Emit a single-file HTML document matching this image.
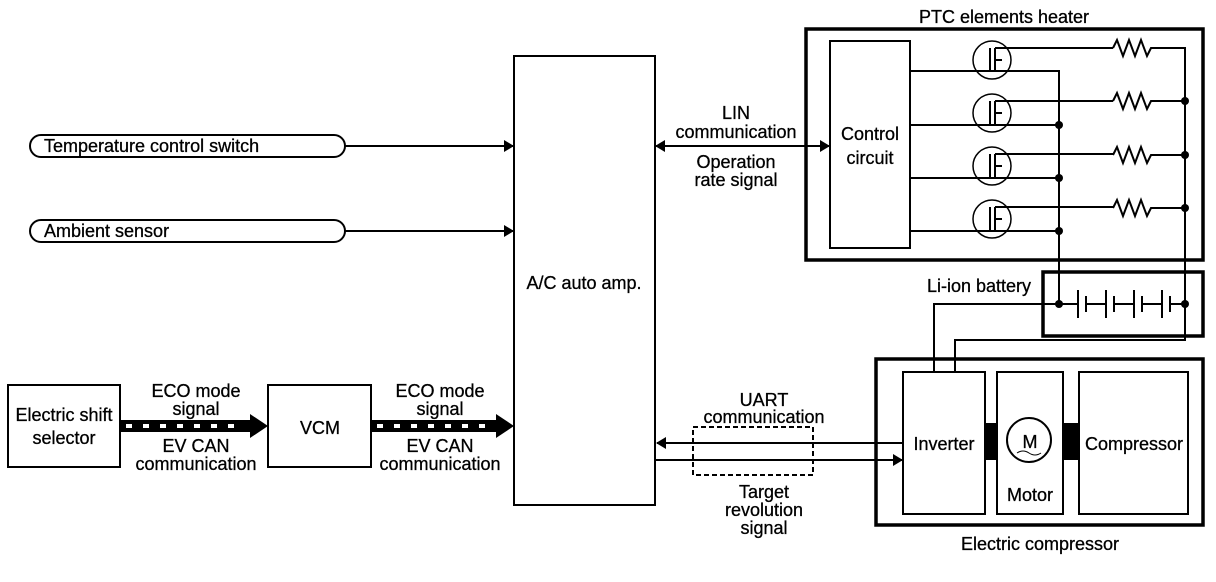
<!DOCTYPE html>
<html><head><style>html,body{margin:0;padding:0;background:#fff}svg{display:block}text{font-family:"Liberation Sans",sans-serif;font-size:18px;fill:#000;stroke:#000;stroke-width:0.3}</style></head>
<body>
<svg width="1216" height="582" viewBox="0 0 1216 582" xmlns="http://www.w3.org/2000/svg">
<defs>
<marker id="ah" markerWidth="10" markerHeight="12" refX="9" refY="6" orient="auto" markerUnits="userSpaceOnUse"><path d="M0,0 L10,6 L0,12 z" fill="#000"/></marker>
<marker id="ahs" markerWidth="10" markerHeight="12" refX="1" refY="6" orient="auto" markerUnits="userSpaceOnUse"><path d="M10,0 L0,6 L10,12 z" fill="#000"/></marker>
</defs>
<g stroke="#000" fill="none" stroke-width="2">
<rect x="514" y="56" width="141" height="449"/>
<rect x="30" y="135" width="315" height="22" rx="11"/>
<rect x="30" y="220" width="315" height="22" rx="11"/>
<line x1="345" y1="146" x2="513" y2="146" marker-end="url(#ah)"/>
<line x1="345" y1="231" x2="513" y2="231" marker-end="url(#ah)"/>
<rect x="8" y="385" width="112" height="82"/>
<rect x="268" y="385" width="103" height="82"/>
<line x1="656" y1="146" x2="829" y2="146" marker-end="url(#ah)" marker-start="url(#ahs)"/>
<rect x="806" y="29" width="397" height="231" stroke-width="3.5"/>
<rect x="830" y="41" width="80" height="207"/>
<g stroke-width="1.5">
<circle cx="992" cy="60" r="19"/><circle cx="992" cy="113" r="19"/><circle cx="992" cy="166" r="19"/><circle cx="992" cy="219" r="19"/>
</g>
<path d="M910,71 H1059 V304"/>
<path d="M910,125 H1059 M910,178 H1059 M910,231 H1059"/>
<g>
<path d="M990,48 V72 M995,48 V72 M995,48 H1113 M995,60 H1002"/>
<path d="M990,101 V125 M995,101 V125 M995,101 H1113 M995,113 H1002"/>
<path d="M990,154 V178 M995,154 V178 M995,154 H1113 M995,166 H1002"/>
<path d="M990,207 V231 M995,207 V231 M995,207 H1113 M995,219 H1002"/>
</g>
<path d="M1113,48 l4,-8 l6,16 l6,-16 l6,16 l6,-16 l6,16 l4,-8 H1185 V340 H955 V372"/>
<path d="M1113,101 l4,-8 l6,16 l6,-16 l6,16 l6,-16 l6,16 l4,-8 H1185"/>
<path d="M1113,155 l4,-8 l6,16 l6,-16 l6,16 l6,-16 l6,16 l4,-8 H1185"/>
<path d="M1113,208 l4,-8 l6,16 l6,-16 l6,16 l6,-16 l6,16 l4,-8 H1185"/>
<rect x="1043" y="272" width="160" height="64" stroke-width="3.5"/>
<path d="M934,372 V304 H1078 M1086,304 H1106 M1114,304 H1134 M1142,304 H1162 M1170,304 H1185"/>
<path d="M1078,290 V318 M1086,296 V312 M1106,290 V318 M1114,296 V312 M1134,290 V318 M1142,296 V312 M1162,290 V318 M1170,296 V312" stroke-width="2"/>
<rect x="876" y="359" width="327" height="166" stroke-width="3.5"/>
<rect x="903" y="372" width="82" height="142"/>
<rect x="997" y="372" width="66" height="142"/>
<rect x="1079" y="372" width="109" height="142"/>
<circle cx="1029" cy="440" r="22"/>
<path d="M1017,453 q6,-4 12,0 t12,0" stroke-width="1"/>
<line x1="903" y1="443" x2="657" y2="443" marker-end="url(#ah)"/>
<line x1="656" y1="460" x2="902" y2="460" marker-end="url(#ah)"/>
<rect x="693" y="427" width="120" height="48" stroke-dasharray="5,3"/>
</g>
<g fill="#000">
<circle cx="1059" cy="125" r="4"/><circle cx="1059" cy="178" r="4"/><circle cx="1059" cy="231" r="4"/><circle cx="1059" cy="304" r="4"/>
<circle cx="1185" cy="101" r="4"/><circle cx="1185" cy="155" r="4"/><circle cx="1185" cy="208" r="4"/><circle cx="1185" cy="304" r="4"/>
<rect x="985" y="423" width="12" height="37"/><rect x="1063" y="423" width="16" height="37"/>
<rect x="120" y="420" width="132" height="12"/><path d="M250,414 L268,426 L250,438z"/>
<rect x="371" y="420" width="127" height="12"/><path d="M496,414 L514,426 L496,438z"/>
</g>
<g fill="#fff">
<rect x="126" y="424" width="6" height="4"/><rect x="143" y="424" width="6" height="4"/><rect x="160" y="424" width="6" height="4"/><rect x="177" y="424" width="6" height="4"/><rect x="194" y="424" width="6" height="4"/><rect x="211" y="424" width="6" height="4"/><rect x="228" y="424" width="6" height="4"/>
<rect x="377" y="424" width="6" height="4"/><rect x="394" y="424" width="6" height="4"/><rect x="411" y="424" width="6" height="4"/><rect x="428" y="424" width="6" height="4"/><rect x="445" y="424" width="6" height="4"/><rect x="462" y="424" width="6" height="4"/><rect x="479" y="424" width="6" height="4"/>
</g>
<text x="44" y="152">Temperature control switch</text>
<text x="44" y="237">Ambient sensor</text>
<text x="584" y="289" text-anchor="middle">A/C auto amp.</text>
<g text-anchor="middle">
<text x="64" y="421">Electric shift</text><text x="64" y="444">selector</text>
<text x="196" y="397">ECO mode</text><text x="196" y="415">signal</text>
<text x="196" y="452">EV CAN</text><text x="196" y="470">communication</text>
<text x="320" y="434">VCM</text>
<text x="440" y="397">ECO mode</text><text x="440" y="415">signal</text>
<text x="440" y="452">EV CAN</text><text x="440" y="470">communication</text>
<text x="736" y="119">LIN</text><text x="736" y="138">communication</text>
<text x="736" y="168">Operation</text><text x="736" y="186">rate signal</text>
<text x="870" y="140">Control</text><text x="870" y="164">circuit</text>
<text x="1004" y="23">PTC elements heater</text>
<text x="979" y="292">Li-ion battery</text>
<text x="764" y="406">UART</text><text x="764" y="423">communication</text>
<text x="764" y="498">Target</text><text x="764" y="516">revolution</text><text x="764" y="534">signal</text>
<text x="944" y="450">Inverter</text>
<text x="1030" y="448" font-size="20">M</text>
<text x="1030" y="501">Motor</text>
<text x="1134" y="450">Compressor</text>
<text x="1040" y="550">Electric compressor</text>
</g>
</svg>
</body></html>
